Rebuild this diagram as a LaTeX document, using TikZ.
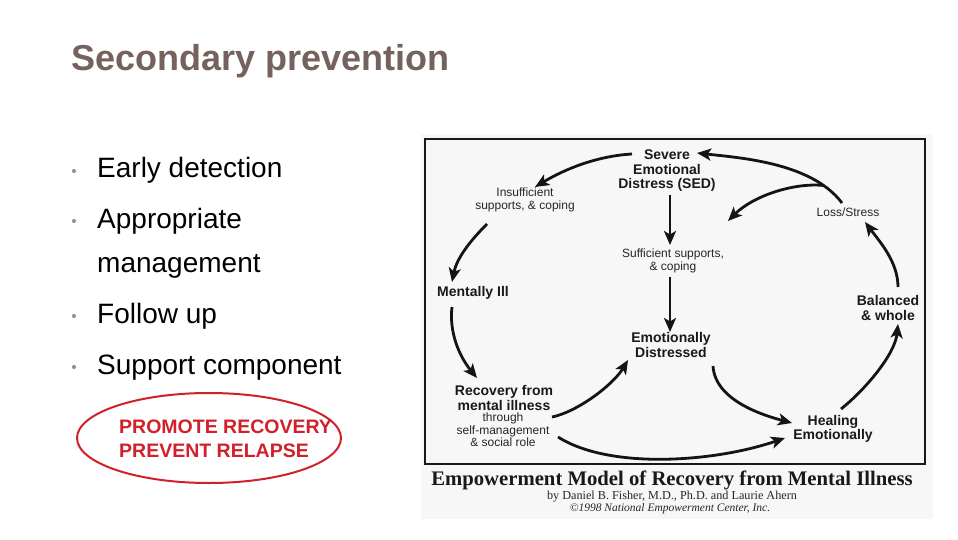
\documentclass[tikz,border=0pt]{standalone}
\usepackage{fontspec}
\setmainfont{Liberation Sans}
\newfontfamily\capserif{Liberation Serif}
\usetikzlibrary{arrows.meta,shapes.geometric}
\definecolor{titlebrown}{HTML}{76625C}
\definecolor{bulletc}{HTML}{A88E7E}
\definecolor{redc}{HTML}{D2202A}
\begin{document}
\begin{tikzpicture}[x=1pt,y=-1pt,
  lb/.style={font=\fontsize{14}{14.5}\selectfont\bfseries, align=center, inner sep=0pt, text=black!90},
  lr/.style={font=\fontsize{12}{12.7}\selectfont, align=center, inner sep=0pt, text=black!85},
  arr/.style={line width=2.8pt, draw=black!92, -{Stealth[length=14pt,width=12pt,inset=3.5pt]}},
  bul/.style={font=\fontsize{28}{28}\selectfont, anchor=base west, inner sep=0pt},
  dot/.style={circle, fill=bulletc, inner sep=0pt, minimum size=4.2pt}
]
\useasboundingbox (0,0) rectangle (958,540);
\fill[white] (0,0) rectangle (958,540);

% title
\node[anchor=base west, inner sep=0pt, text=titlebrown, font=\fontsize{36}{36}\selectfont\bfseries] (title) at (71,71) {Secondary prevention};

% bullets
\node[bul] (b1) at (97,178) {Early detection};
\node[bul] (b2) at (97,228) {Appropriate};
\node[bul] (b2b) at (97,272) {management};
\node[bul] (b3) at (97,323) {Follow up};
\node[bul] (b4) at (97,374) {Support component};
\node[dot] (d1) at (74,171) {};
\node[dot] (d2) at (74,221) {};
\node[dot] (d3) at (74,316) {};
\node[dot] (d4) at (74,367) {};

% red ellipse
\node[ellipse, draw=redc, line width=2pt, minimum width=264, minimum height=90, inner sep=0pt] (ell) at (209,438) {};
\node[anchor=west, align=left, inner sep=0pt, text=redc, font=\fontsize{19.5}{24}\selectfont\bfseries] (promo) at (119,439) {PROMOTE RECOVERY\\PREVENT RELAPSE};

% diagram image area
\fill[black!3] (421,134) rectangle (933,519);
\draw[line width=2.6pt, black!90] (425,139) rectangle (925,464);

\node[lb] (sed) at (667,171) {Severe\\Emotional\\Distress (SED)};
\node[lr] (ins) at (525,200) {Insufficient\\supports, \& coping};
\node[lr] (suf) at (673,261) {Sufficient supports,\\\& coping};
\node[lb] (mi) at (473,293) {Mentally Ill};
\node[lb] (emo) at (671,345) {Emotionally\\Distressed};
\node[lb] (rec) at (504,398) {Recovery from\\mental illness};
\node[lr] (recs) at (503,430) {through\\self-management\\\& social role};
\node[lb] (heal) at (833,429) {Healing\\Emotionally};
\node[lb] (bal) at (888,308) {Balanced\\\& whole};
\node[lr] (loss) at (848,212) {Loss/Stress};

% arrows
\draw[arr] ([shift={(-35,-17)}]sed.center) .. controls +(-35,2) and +(30,-18) .. ([shift={(10,-13)}]ins.center);
\draw[arr] ([shift={(-38,24)}]ins.center) .. controls +(-15,15) and +(5,-25) .. ([shift={(-21,-11)}]mi.center);
\draw[arr] ([shift={(-21,14)}]mi.center) .. controls +(-3,25) and +(-18,-22) .. ([shift={(-27,-20)}]rec.center);
\draw[arr] ([shift={(49,-13)}]recs.center) .. controls +(25,-5) and +(-15,25) .. ([shift={(-43,15)}]emo.center);
\draw[arr] ([shift={(55,7)}]recs.center) .. controls +(52,33) and +(-70,24) .. ([shift={(-48,9)}]heal.center);
\draw[arr] ([shift={(42,21)}]emo.center) .. controls +(2,34) and +(-30,-8) .. ([shift={(-41,-6)}]heal.center);
\draw[arr] ([shift={(8,-20)}]heal.center) .. controls +(25,-20) and +(-3,30) .. ([shift={(10,16)}]bal.center);
\draw[arr] ([shift={(10,-21)}]bal.center) .. controls +(0,-25) and +(15,20) .. ([shift={(17,10)}]loss.center);
\draw[arr] ([shift={(-6,-9)}]loss.center) .. controls +(-30,-40) and +(45,5) .. ([shift={(30,-18)}]sed.center) coordinate[pos=0.17] (br);
\draw[arr] (br) .. controls +(-30,-3) and +(25,-25) .. ([shift={(61,50)}]sed.center);
\draw[arr] ([shift={(3,24)}]sed.center) -- ([shift={(-3,-16)}]suf.center);
\draw[arr] ([shift={(-3,16)}]suf.center) -- ([shift={(-1,-13)}]emo.center);

% caption
\node[inner sep=0pt, text=black!90, font=\fontsize{20.7}{20}\selectfont\capserif\bfseries] (cap) at (672,480) {Empowerment Model of Recovery from Mental Illness};
\node[inner sep=0pt, text=black!85, font=\fontsize{12.2}{12}\selectfont\capserif] (by) at (672,497) {by Daniel B. Fisher, M.D., Ph.D. and Laurie Ahern};
\node[inner sep=0pt, text=black!85, font=\fontsize{11.5}{12}\selectfont\capserif\itshape] (copy) at (670,508.5) {©1998 National Empowerment Center, Inc.};
\end{tikzpicture}
\end{document}
